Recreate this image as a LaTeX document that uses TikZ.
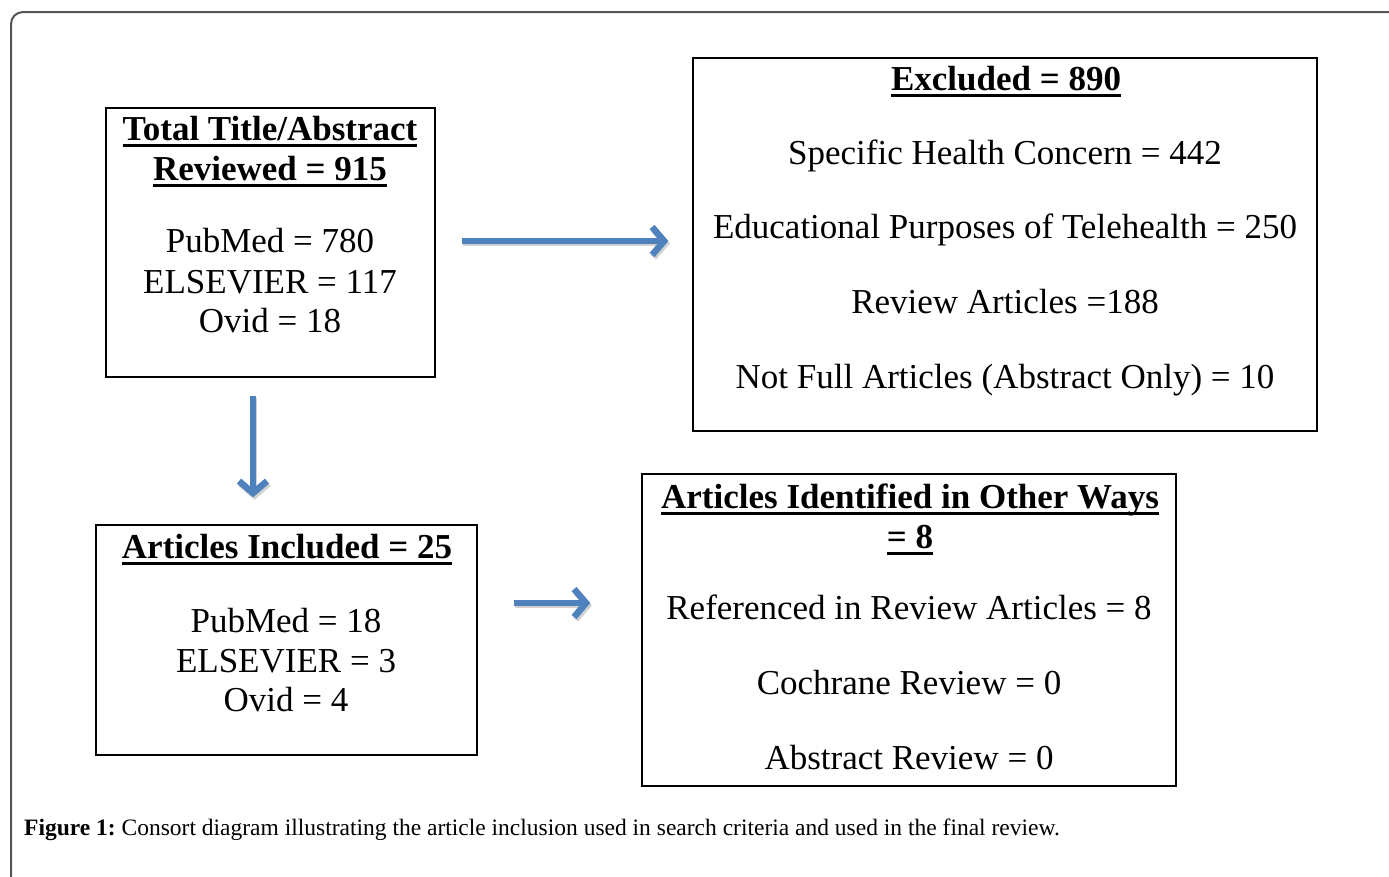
\documentclass[tikz,border=0pt]{standalone}
\usepackage{fontspec}
\setmainfont{Liberation Serif}
\usetikzlibrary{arrows.meta,positioning}

\definecolor{arrowblue}{HTML}{4F81BD}
\definecolor{framegray}{HTML}{555555}

% thick underline for the box titles
\newcommand{\titleul}[1]{\setbox0\hbox{#1}\rlap{\rule[-7pt]{\wd0}{2.6pt}}\box0}

\tikzset{
  box/.style={draw=black, line width=1.3pt, inner sep=0pt},
  txt/.style={font=\fontsize{35}{40}\selectfont, inner sep=0pt, anchor=base},
  ttl/.style={txt, font=\fontsize{35}{40}\selectfont\bfseries},
  flow/.style={draw=arrowblue, line width=5.5pt,
    -{Straight Barb[length=12pt,width=28pt,line width=6.5pt]},
    preaction={draw=black!18, line width=5.5pt, transform canvas={shift={(1.5pt,-2.5pt)}}}}
}

\begin{document}
\begin{tikzpicture}[x=1pt,y=-1pt]
  \useasboundingbox (0,0) rectangle (1389,876);
  \clip (0,0) rectangle (1389,876);

  % outer frame
  \draw [framegray, line width=2pt, rounded corners=12pt] (11,900) -- (11,12) -- (1420,12);

  % boxes
  \node [box, minimum width=329pt, minimum height=269pt] (total) at (270.5,242.5) {};
  \node [box, minimum width=624pt, minimum height=373pt] (excl) at (1005,244.5) {};
  \node [box, minimum width=381pt, minimum height=230pt] (incl) at (286.5,640) {};
  \node [box, minimum width=534pt, minimum height=312pt] (other) at (909,630) {};

  % total reviewed
  \node [ttl] (totalA) at (270,140) {\titleul{Total Title/Abstract}};
  \node [ttl] (totalB) at (270,180) {\titleul{Reviewed = 915}};
  \node [txt] (totalC) at (270,252) {PubMed = 780};
  \node [txt] (totalD) at (270,293) {ELSEVIER = 117};
  \node [txt] (totalE) at (270,332) {Ovid = 18};

  % excluded
  \node [ttl] (exclA) at (1006,90) {\titleul{Excluded = 890}};
  \node [txt] (exclB) at (1005,164) {Specific Health Concern = 442};
  \node [txt] (exclC) at (1005,238) {Educational Purposes of Telehealth = 250};
  \node [txt] (exclD) at (1005,313) {Review Articles =188};
  \node [txt] (exclE) at (1005,388) {Not Full Articles (Abstract Only) = 10};

  % included
  \node [ttl] (inclA) at (287,558) {\titleul{Articles Included = 25}};
  \node [txt] (inclB) at (286,632) {PubMed = 18};
  \node [txt] (inclC) at (286,672) {ELSEVIER = 3};
  \node [txt] (inclD) at (286,711) {Ovid = 4};

  % other ways
  \node [ttl] (otherA) at (910,508) {\titleul{Articles Identified in Other Ways}};
  \node [ttl] (otherB) at (910,548) {\titleul{= 8}};
  \node [txt] (otherC) at (909,619) {Referenced in Review Articles = 8};
  \node [txt] (otherD) at (909,694) {Cochrane Review = 0};
  \node [txt] (otherE) at (909,769) {Abstract Review = 0};

  % arrows
  \draw [flow, shorten <=26pt, shorten >=24pt] ([yshift=1.5pt]total.east) -- ([yshift=1.5pt]total.east -| excl.west);
  \draw [flow, shorten <=18pt, shorten >=27pt] ([xshift=-17.5pt]total.south) -- ([xshift=-17.5pt]total.south |- incl.north);
  \draw [flow, shorten <=36pt, shorten >=51pt] ([yshift=37pt]incl.east) -- ([yshift=37pt]incl.east -| other.west);

  % caption
  \node [anchor=base west, inner sep=0pt, font=\fontsize{23.5}{28}\selectfont] (cap) at (24,835)
    {\textbf{Figure 1:}\hspace{-2pt} Consort diagram illustrating the article inclusion used in search criteria and used in the final review.};
\end{tikzpicture}
\end{document}
